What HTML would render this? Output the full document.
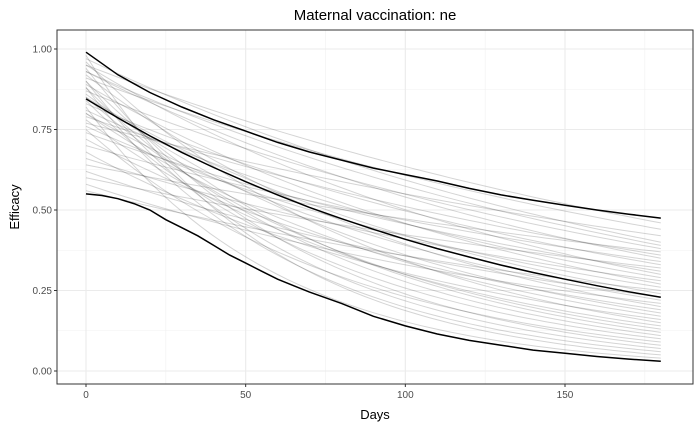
<!DOCTYPE html>
<html><head><meta charset="utf-8"><style>
body{margin:0;background:#fff;font-family:"Liberation Sans",sans-serif}
svg text{font-family:"Liberation Sans",sans-serif}
</style></head><body>
<svg id="c" width="700" height="432"></svg>
<script>
const days=[0,10,20,30,40,50,60,70,80,90,100,110,120,130,140,150,160,170,180];
const upperVals=[0.99,0.92,0.865,0.82,0.78,0.745,0.71,0.68,0.655,0.63,0.61,0.59,0.567,0.547,0.53,0.515,0.50,0.487,0.475];
const medianVals=[0.845,0.786,0.730,0.679,0.632,0.588,0.547,0.508,0.473,0.440,0.409,0.380,0.354,0.329,0.306,0.285,0.265,0.246,0.229];
const lowerDays=[0,5,10,15,20,25,30,35,40,45,50,55,60,65,70,80,90,100,110,120,130,140,150,160,170,180];
const lowerVals=[0.55,0.545,0.535,0.52,0.50,0.47,0.445,0.42,0.39,0.36,0.335,0.31,0.285,0.265,0.245,0.21,0.17,0.14,0.115,0.095,0.08,0.065,0.055,0.045,0.037,0.03];
const greyStart=[0.98,0.97,0.96,0.95,0.94,0.93,0.92,0.91,0.90,0.89,0.88,0.87,0.86,0.85,0.84,0.83,0.82,0.81,0.80,0.79,0.78,0.77,0.76,0.75,0.74,0.72,0.70,0.68,0.66,0.64,0.62,0.60,0.58,0.56,0.95,0.90,0.85,0.80,0.88,0.93];
const greyEnd=[0.05,0.40,0.15,0.30,0.08,0.35,0.20,0.44,0.12,0.27,0.06,0.38,0.18,0.24,0.10,0.33,0.04,0.29,0.22,0.36,0.14,0.42,0.26,0.09,0.31,0.19,0.34,0.16,0.28,0.37,0.23,0.32,0.21,0.25,0.46,0.07,0.13,0.17,0.11,0.39];
const xTicks=[0,50,100,150];
const yTicks=[0,0.25,0.5,0.75,1.0];
const yLabels=["0.00","0.25","0.50","0.75","1.00"];

const L=57,R=693,T=30,B=384;
const xs=d=>86+d*(565-86)/150;
const ys=v=>371-v*(371-49);
const svg=document.getElementById('c');
const NS='http://www.w3.org/2000/svg';
function mk(t,a){const e=document.createElementNS(NS,t);for(const k in a)e.setAttribute(k,a[k]);svg.appendChild(e);return e;}
let e;
e=mk('rect',{x:L,y:T,width:R-L,height:B-T,fill:'#fff'});


[25,75,125,175].forEach(d=>{e=mk('line',{x1:xs(d),x2:xs(d),y1:T,y2:B,stroke:'#f0f0f0','stroke-width':0.6});

});
[0.125,0.375,0.625,0.875].forEach(v=>{e=mk('line',{x1:L,x2:R,y1:ys(v),y2:ys(v),stroke:'#f0f0f0','stroke-width':0.6});

});
xTicks.forEach(d=>{e=mk('line',{x1:xs(d),x2:xs(d),y1:T,y2:B,stroke:'#ebebeb','stroke-width':1.1});


mk('line',{x1:xs(d),x2:xs(d),y1:B,y2:B+3,stroke:'#333'});
e=mk('text',{x:xs(d),y:B+14,'font-size':10,fill:'#4d4d4d','text-anchor':'middle'});e.textContent=d;

});
yTicks.forEach((v,i)=>{e=mk('line',{x1:L,x2:R,y1:ys(v),y2:ys(v),stroke:'#ebebeb','stroke-width':1.1});


mk('line',{x1:L-3,x2:L,y1:ys(v),y2:ys(v),stroke:'#333'});
e=mk('text',{x:L-5,y:ys(v)+3.5,'font-size':10,fill:'#4d4d4d','text-anchor':'end'});e.textContent=yLabels[i];

});
greyStart.forEach((a,i)=>{const b=greyEnd[i];const k=Math.log(a/b)/180;let p='';
for(let t=0;t<=180;t+=3){p+=(t?'L':'M')+xs(t).toFixed(1)+','+ys(a*Math.exp(-k*t)).toFixed(1);}
e=mk('path',{d:p,fill:'none',stroke:'#000','stroke-opacity':0.17,'stroke-width':1});

});
function line(dd,vv,name){const p=dd.map((d,i)=>(i?'L':'M')+xs(d).toFixed(1)+','+ys(vv[i]).toFixed(1)).join('');
e=mk('path',{d:p,fill:'none',stroke:'#000','stroke-width':1.5});

}
line(days,upperVals,'upper-bound-line');
line(days,medianVals,'median-line');
line(lowerDays,lowerVals,'lower-bound-line');
e=mk('rect',{x:L,y:T,width:R-L,height:B-T,fill:'none',stroke:'#333','stroke-width':1});


e=mk('text',{x:375,y:20,'font-size':15,fill:'#000','text-anchor':'middle'});e.textContent='Maternal vaccination: ne';


e=mk('text',{x:375,y:419,'font-size':13,fill:'#000','text-anchor':'middle'});e.textContent='Days';


e=mk('text',{x:19,y:207,'font-size':13,fill:'#000','text-anchor':'middle',transform:'rotate(-90 19 207)'});e.textContent='Efficacy';


</script>
</body></html>
